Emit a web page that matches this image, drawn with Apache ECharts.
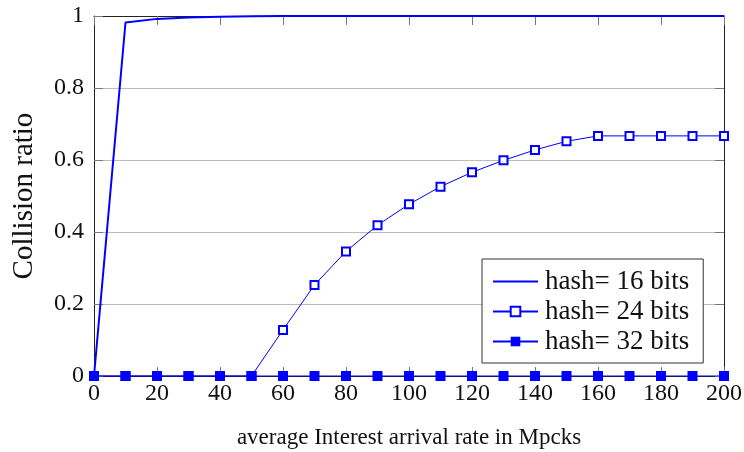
<!DOCTYPE html>
<html><head><meta charset="utf-8">
<script src="https://cdn.jsdelivr.net/npm/echarts@6/dist/echarts.min.js"></script>
<style>html,body{margin:0;padding:0;background:#fff}#c{width:744px;height:452px}</style>
</head><body><div id="c"></div>
<script>
const xValues = [0,10,20,30,40,50,60,70,80,90,100,110,120,130,140,150,160,170,180,190,200];
const hash16 = [0,0.982,0.992,0.996,0.998,0.999,1,1,1,1,1,1,1,1,1,1,1,1,1,1,1];
const hash24 = [0,0,0,0,0,0,0.128,0.253,0.346,0.419,0.477,0.526,0.566,0.599,0.628,0.652,0.667,0.667,0.667,0.667,0.667];
const hash32 = [0,0,0,0,0,0,0,0,0,0,0,0,0,0,0,0,0,0,0,0,0];
const xTicks = [0,20,40,60,80,100,120,140,160,180,200];
const seriesNames = ['hash= 16 bits','hash= 24 bits','hash= 32 bits'];
const xTitle = 'average Interest arrival rate in Mpcks';
const yTitle = 'Collision ratio';

const font = 'Liberation Serif';
const pair = (vals) => xValues.map((x,i)=>[x,vals[i]]);
const blue = '#0000ff';
const tickColor = '#777';
const mkTick = () => ({show:true,inside:true,length:9,lineStyle:{color:tickColor,width:1}});
const tickAxis = (off) => ({
  type:'value', position:'bottom', offset:off, min:0, max:200, interval:20,
  axisLine:{show:false}, axisLabel:{show:false}, splitLine:{show:false},
  axisTick:{show:true,inside:false,length:9,lineStyle:{color:tickColor,width:1}}
});
const chart = echarts.init(document.getElementById('c'));
chart.setOption({
  animation:false,
  textStyle:{fontFamily:font},
  grid:{left:94,right:20,top:16,bottom:76,show:false,
        outerBoundsMode:'none', containLabel:false},
  legend:{
    orient:'vertical', left:482, top:259, z:10,
    backgroundColor:'#fff', borderColor:'#333', borderWidth:1,
    padding:[9,14,8,10], itemWidth:45, itemHeight:12, itemGap:3,
    textStyle:{fontFamily:font,fontSize:27,color:'#111',padding:[0,0,0,2]},
    data:[
      {name:seriesNames[0], icon:'path://M0,0H45V2H0Z'},
      {name:seriesNames[1]},
      {name:seriesNames[2]}
    ]
  },
  xAxis:[{
    type:'value', min:0, max:200, interval:20,
    name:xTitle, nameLocation:'middle', nameGap:50,
    nameTextStyle:{fontFamily:font,fontSize:23,color:'#111'},
    axisLine:{show:true,onZero:false,lineStyle:{color:'#222'}},
    axisTick:{show:false},
    axisLabel:{fontFamily:font,fontSize:24,color:'#111',margin:6},
    splitLine:{show:false}
  },{
    type:'value', position:'top', min:0, max:200, interval:20,
    axisLine:{show:true,onZero:false,lineStyle:{color:'#222'}},
    axisTick:{show:false},
    axisLabel:{show:false}, splitLine:{show:false}
  }, tickAxis(-9)],
  yAxis:[{
    type:'value', min:0, max:1, interval:0.2,
    name:yTitle, nameLocation:'middle', nameGap:55,
    nameTextStyle:{fontFamily:font,fontSize:29,color:'#111'},
    axisLine:{show:true,onZero:false,lineStyle:{color:'#222'}},
    axisTick:mkTick(),
    axisLabel:{fontFamily:font,fontSize:24,color:'#111',margin:10,
      formatter:v=>String(Math.round(v*10)/10)},
    splitLine:{show:true,lineStyle:{color:'#bbb',width:1}}
  },{
    type:'value', position:'right', min:0, max:1, interval:0.2,
    axisLine:{show:true,onZero:false,lineStyle:{color:'#222'}},
    axisTick:mkTick(),
    axisLabel:{show:false}, splitLine:{show:false}
  }],
  series:[
    {name:seriesNames[0], type:'line', data:pair(hash16), symbol:'none', showSymbol:false,
     lineStyle:{color:blue,width:2}, itemStyle:{color:blue}, z:3},
    {name:seriesNames[1], type:'line', data:pair(hash24), symbol:'emptyRect', symbolSize:8,
     lineStyle:{color:blue,width:1}, itemStyle:{color:blue,borderColor:blue,borderWidth:1.2}, z:2},
    {name:seriesNames[2], type:'line', data:pair(hash32), symbol:'rect', symbolSize:10,
     lineStyle:{color:blue,width:1.2}, itemStyle:{color:blue}, z:4}
  ]
});
// top-edge ticks, placed through the axis scale
const yTop = chart.convertToPixel({yAxisIndex:0}, 1);
const topTicks = xTicks.map(v => {
  const px = Math.round(chart.convertToPixel({xAxisIndex:0}, v)) + 0.5;
  return {type:'line', z:1, silent:true,
    shape:{x1:px, y1:yTop, x2:px, y2:yTop + 9},
    style:{stroke:tickColor, lineWidth:1}};
});
chart.setOption({graphic:{elements:topTicks}});
</script></body></html>
